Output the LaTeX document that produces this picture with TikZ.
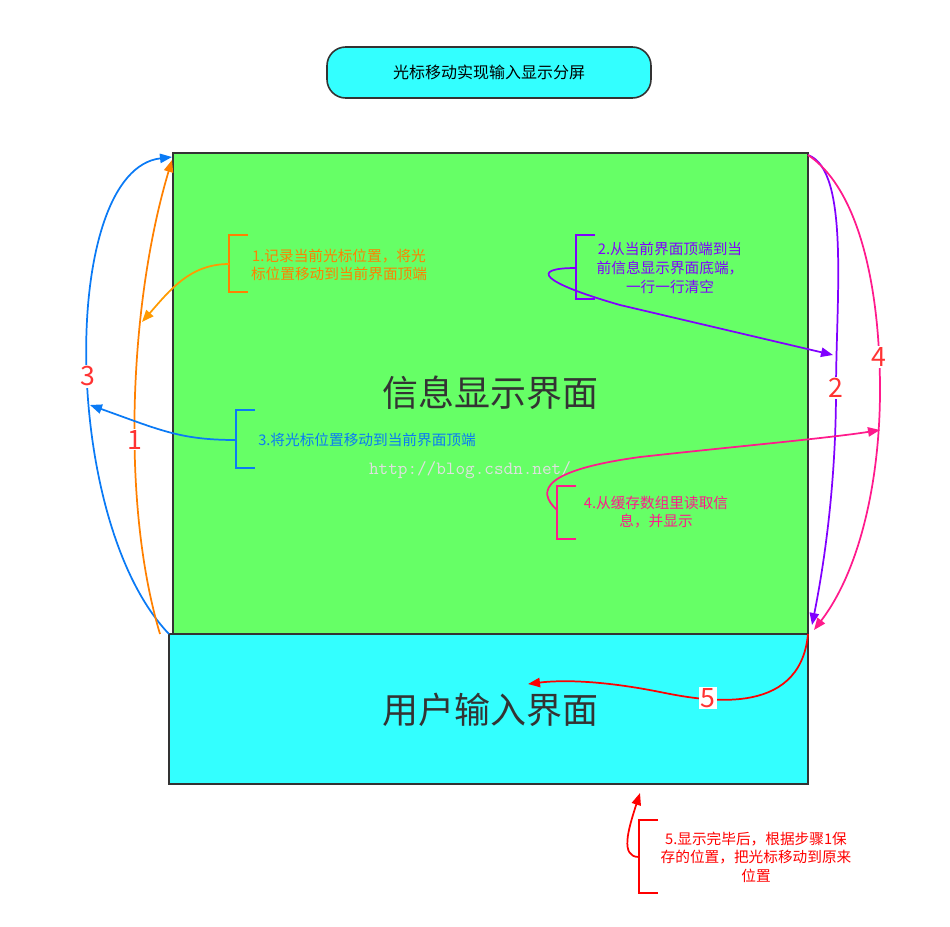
\documentclass[tikz,border=0pt]{standalone}
\usepackage{fontspec}
\setmainfont{Noto Sans CJK SC}
\usetikzlibrary{arrows.meta}
\definecolor{cyanbox}{HTML}{33FFFF}
\definecolor{greenbox}{HTML}{66FF66}
\definecolor{edge}{HTML}{333333}
\definecolor{corange}{HTML}{FF8000}
\definecolor{cblue}{HTML}{0A7AF5}
\definecolor{cpurple}{HTML}{8000FF}
\definecolor{cpink}{HTML}{FF1A8C}
\definecolor{cred}{HTML}{FF0000}
\definecolor{lbl}{HTML}{FF3333}
\tikzset{
  box/.style={draw=edge,line width=1.2pt,inner sep=0pt},
  flow/.style={line width=1.3pt,-{Triangle[length=9pt,width=7pt]}},
  brk/.style={line width=1.3pt},
  num/.style={fill=white,text=lbl,font=\fontsize{20}{22}\selectfont,inner sep=1pt},
  note/.style={align=center,font=\fontsize{11}{14}\selectfont,inner sep=0pt},
}
\begin{document}
\begin{tikzpicture}[x=0.75pt,y=-0.75pt]
\useasboundingbox (0,0) rectangle (950,926);
% title
\node[box,fill=cyanbox,rounded corners=14pt,minimum width=324*0.75pt,minimum height=51*0.75pt,font=\fontsize{12}{14}\selectfont] (title) at (489,72.5) {光标移动实现输入显示分屏};
% main boxes
\node[box,fill=greenbox,minimum width=635*0.75pt,minimum height=481*0.75pt] (info) at (490.5,393.5) {};
\node[box,fill=cyanbox,minimum width=639*0.75pt,minimum height=150*0.75pt] (input) at (488.5,709) {};
\node[text=edge,font=\fontsize{27}{30}\selectfont] (infot) at (490,393) {信息显示界面};
\node[text=edge,font=\fontsize{27}{30}\selectfont] (inputt) at (490,710) {用户输入界面};
\node[text=white!88!black,font=\ttfamily\fontsize{14}{16}\selectfont] (wm) at (470,470) {http://blog.csdn.net/};
% coordinates
\coordinate (tl) at (172,157);
\coordinate (tl2) at (172,160);
\coordinate (bl) at (169,634);
\coordinate (bl2) at (160,634);
\coordinate (tr) at (808,155);
\coordinate (br) at (812,625);
\coordinate (br2) at (814,630);
\coordinate (brc) at (808,634);
% arrow 3
\draw[flow,cblue] (bl) .. controls (60,520) and (60,170) .. (tl) node[num,pos=0.47] (n3) {3};
% arrow 1
\draw[flow,corange] (bl2) .. controls (120,500) and (130,300) .. (tl2) node[num,pos=0.42] (n1) {1};
% arrow 2
\draw[flow,cpurple] (tr) .. controls (850,170) and (836,300) .. (836,390) .. controls (836,480) and (825,560) .. (br) ;
\node[num] (n2) at (836,388) {2};
% arrow 4
\draw[flow,cpink] (tr) .. controls (860,190) and (880,290) .. (880,390) .. controls (880,480) and (860,570) .. (br2);
\node[num] (n4) at (879,357) {4};
% arrow 5
\draw[flow,cred] (brc) .. controls (800,720) and (700,700) .. (660,692) .. controls (600,680) and (560,680) .. (528,684);
\node[num] (n5) at (708,698) {5};
% bracket 1
\draw[brk,corange] (248,235) -- (229,235) -- (229,292) -- (248,292);
\coordinate (b1) at (229,264);
\coordinate (t1) at (142,322);
\draw[flow,corange!80!yellow] (b1) .. controls (190,264) and (170,290) .. (t1);
\node[note,text=corange] (a1) at (339,265) {1.记录当前光标位置，将光\\标位置移动到当前界面顶端};
% bracket 3
\draw[brk,cblue] (255,410) -- (236,410) -- (236,468) -- (255,468);
\coordinate (b3) at (236,440);
\coordinate (t3) at (90,405);
\draw[flow,cblue] (b3) .. controls (180,440) and (160,430) .. (t3);
\node[note,text=cblue,anchor=west] (a3) at (258,440) {3.将光标位置移动到当前界面顶端};
% bracket 2
\draw[brk,cpurple] (595,235) -- (576,235) -- (576,299) -- (595,299);
\coordinate (b2) at (576,268);
\coordinate (t2) at (833,355);
\draw[flow,cpurple] (b2) .. controls (530,268) and (540,282) .. (620,305) -- (t2);
\node[note,text=cpurple] (a2) at (670,268) {2.从当前界面顶端到当\\前信息显示界面底端，\\一行一行清空};
% bracket 4
\draw[brk,cpink] (576,486) -- (557,486) -- (557,539) -- (576,539);
\coordinate (b4) at (557,510);
\coordinate (t4) at (880,430);
\draw[flow,cpink] (b4) .. controls (535,490) and (545,470) .. (640,457) .. controls (730,447) and (830,438) .. (t4);
\node[note,text=cpink] (a4) at (656,512) {4.从缓存数组里读取信\\息，并显示};
% bracket 5
\draw[brk,cred] (658,820) -- (639,820) -- (639,893) -- (658,893);
\coordinate (b5) at (639,857);
\coordinate (t5) at (640,793);
\draw[flow,cred] (b5) .. controls (620,857) and (628,830) .. (t5);
\node[note,text=cred] (a5) at (756,857) {5.显示完毕后，根据步骤1保\\存的位置，把光标移动到原来\\位置};
\end{tikzpicture}
\end{document}
